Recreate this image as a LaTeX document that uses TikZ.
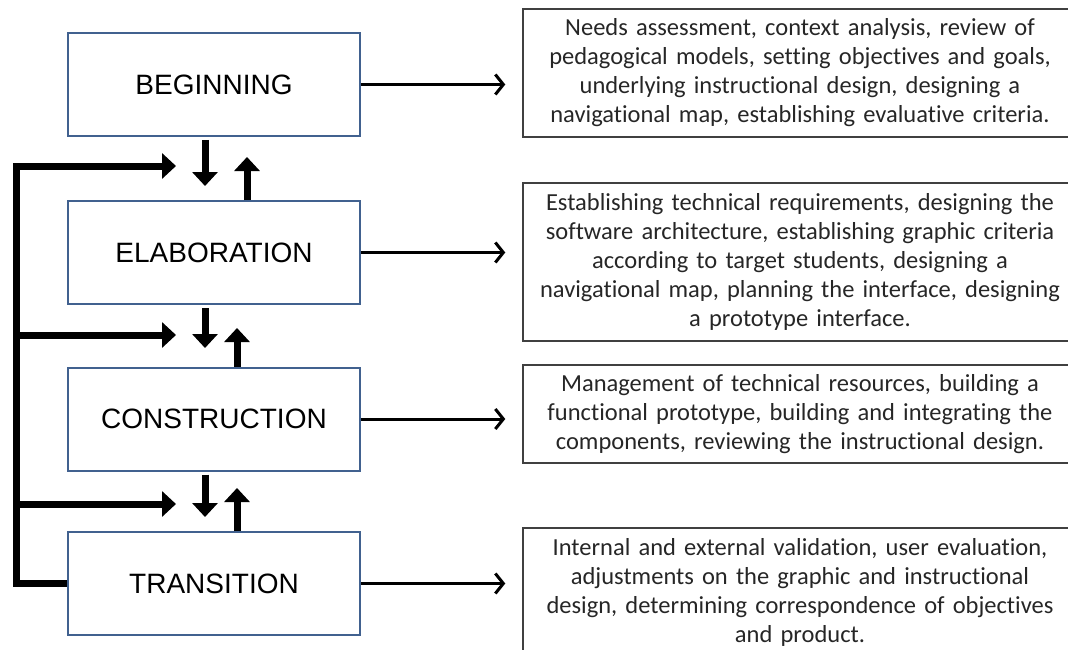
\documentclass[tikz,border=0pt]{standalone}
\usepackage{fontspec}
\setmainfont[Ligatures=NoCommon]{Carlito}
\newfontfamily\phasefont{Liberation Sans}
\usetikzlibrary{arrows.meta}

\definecolor{phaseblue}{HTML}{41618F}

\tikzset{
  phase/.style={draw=phaseblue, line width=2pt, minimum width=292pt, minimum height=103pt,
    inner sep=0pt, font=\phasefont\fontsize{28}{32}\selectfont},
  desc/.style={draw=black!75, line width=1.5pt, text width=542pt, inner xsep=6pt, inner ysep=0pt,
    align=center, text=black!85, font=\fontsize{24.5}{29}\selectfont},
  fat/.style={line width=7pt, -{Triangle[length=14pt,width=25pt]}},
  link/.style={line width=3pt, -{Straight Barb[length=8pt,width=20pt]}, shorten >=17pt},
}

\begin{document}
\begin{tikzpicture}[x=1pt, y=-1pt]
\useasboundingbox (0,0) rectangle (1068,650);

% phases
\node[phase] (beg) at (214,84.5) {BEGINNING};
\node[phase] (elab) at (214,252.5) {ELABORATION};
\node[phase] (cons) at (214,419) {CONSTRUCTION};
\node[phase] (trans) at (214,583.5) {TRANSITION};

% descriptions (they run past the right edge)
\node[desc, minimum height=128pt] (desc1) at (800,73) {Needs assessment, context analysis, review of\\
  pedagogical models, setting objectives and goals,\\
  underlying instructional design, designing a\\
  navigational map, establishing evaluative criteria.};
\node[desc, minimum height=158pt] (desc2) at (800,262) {Establishing technical requirements, designing the\\
  software architecture, establishing graphic criteria\\
  according to target students, designing a\\
  navigational map, planning the interface, designing\\
  a prototype interface.};
\node[desc, minimum height=98pt] (desc3) at (800,414) {Management of technical resources, building a\\
  functional prototype, building and integrating the\\
  components, reviewing the instructional design.};
\node[desc, minimum height=128pt] (desc4) at (800,592) {Internal and external validation, user evaluation,\\
  adjustments on the graphic and instructional\\
  design, determining correspondence of objectives\\
  and product.};

\draw[link] (beg) -- (beg -| desc1.west);
\draw[link] (elab) -- (elab -| desc2.west);
\draw[link] (cons) -- (cons -| desc3.west);
\draw[link] (trans) -- (trans -| desc4.west);

% forward and back between phases
\coordinate (dn1) at (205,186);
\coordinate (up1) at (247,157);
\coordinate (dn2) at (205,348);
\coordinate (up2) at (237,328);
\coordinate (dn3) at (205,517);
\coordinate (up3) at (237,488);
\draw[fat, shorten <=3pt] (beg.south -| dn1) -- (dn1);
\draw[fat] (elab.north -| up1) -- (up1);
\draw[fat, shorten <=3pt] (elab.south -| dn2) -- (dn2);
\draw[fat] (cons.north -| up2) -- (up2);
\draw[fat, shorten <=3pt] (cons.south -| dn3) -- (dn3);
\draw[fat] (trans.north -| up3) -- (up3);

% feedback from transition
\coordinate (bus) at (16,166);
\coordinate (fb1) at (176,166);
\coordinate (fb2) at (176,335);
\coordinate (fb3) at (176,504);
\draw[fat] (trans.west) -| (bus) -- (fb1);
\draw[fat] (bus |- fb2) -- (fb2);
\draw[fat] (bus |- fb3) -- (fb3);
\end{tikzpicture}
\end{document}
